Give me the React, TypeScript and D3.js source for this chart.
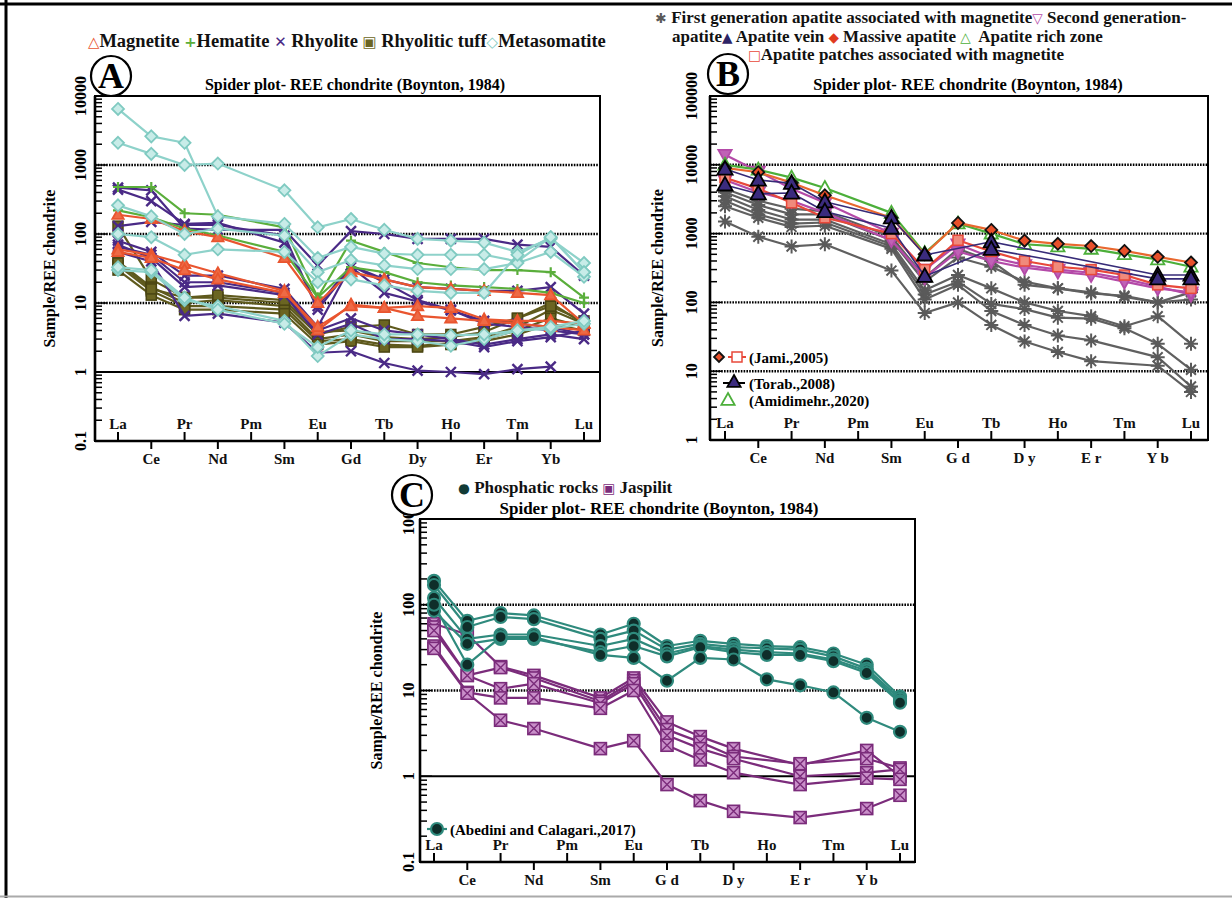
import { useEffect, useRef } from 'react';
import * as d3 from 'd3';

type Row = (number | null)[];

const ELEMENTS = ['La', 'Ce', 'Pr', 'Nd', 'Pm', 'Sm', 'Eu', 'Gd', 'Tb', 'Dy', 'Ho', 'Er', 'Tm', 'Yb', 'Lu'];
const SPACED_LABELS = ['La', 'Ce', 'Pr', 'Nd', 'Pm', 'Sm', 'Eu', 'G d', 'Tb', 'D y', 'Ho', 'E r', 'Tm', 'Y b', 'Lu'];

// Panel A - chondrite normalised values (La..Lu, Pm missing)
const magnetite: Row[] = [
  [190, 165, 110, 90, null, 45, 10, 28, 22, 17, 16, 15, 14, 13, 5],
  [60, 50, 37, 27, null, 15, 4, 9.5, 8.5, 9, 8.5, 5.8, 5.5, 5.5, 5],
  [55, 45, 30, 22, null, 14, 4.5, 9, 8.5, 6.5, 6, 5.5, 5, 4.5, 4],
];
const hematite: Row[] = [
  [480, 480, 200, 190, null, 125, 12, 80, 55, 38, 33, 30, 30, 28, 12],
  [220, 175, 120, 95, null, 55, 12, 33, 28, 20, 18, 17, 16, 14, 10],
];
const rhyolite: Row[] = [
  [470, 430, 120, 115, null, 115, 35, 110, 100, 85, 85, 85, 70, 65, 25],
  [440, 300, 140, 145, null, 75, 9, 35, 22, 17, 16, 15, 15, 17, 7],
  [130, 150, 135, 135, null, 95, 8, 33, 14, 10.5, 7.8, 5.5, 5, 4.5, 3.5],
  [80, 55, 25, 25, null, 16, 4.5, 35, 20, 11, 8, 5, 4.5, 4, 3.5],
  [65, 50, 20, 20, null, 14, 4, 6, 4, 3.5, 3, 2.5, 3, 3.5, 3],
  [70, 45, 17, 18, null, 13, 3.5, 5, 3, 3, 2.8, 2.3, 2.8, 3.2, 4],
  [55, 40, 6.5, 7, null, 5.2, 1.9, 2, 1.35, 1.05, 1.0, 0.93, 1.1, 1.2, null],
];
const rhyoliticTuff: Row[] = [
  [130, 22, 12, 12, null, 10, 3.5, 4.5, 4.8, 3.5, 3.5, 4.5, 6, 10, 5],
  [40, 17, 10, 11, null, 9, 3, 3.5, 2.8, 2.8, 2.8, 3.2, 4.5, 8, 5],
  [35, 15, 9, 9, null, 8, 2.8, 3, 2.5, 2.4, 2.6, 3, 4, 6, 4.5],
  [30, 13, 8, 8, null, 7, 2.5, 2.8, 2.3, 2.3, 2.5, 2.8, 3.5, 5, 4],
  [38, 16, 12, 13, null, 11, 3.8, 4, 3.2, 3, 3.2, 3.8, 6, 9, 5.5],
];
const metasomatite: Row[] = [
  [6500, 2600, 2100, 180, null, 140, 45, 65, 52, 50, 50, 50, 40, 90, 28],
  [2100, 1450, 1000, 1050, null, 430, 125, 165, 115, 85, 80, 75, 55, 85, 38],
  [260, 180, 100, 120, null, 95, 28, 42, 35, 31, 31, 31, 38, 55, 24],
  [100, 90, 50, 60, null, 55, 20, 22, 18, 15, 14, 14, 50, 90, 28],
  [30, 28, 11, 9, null, 5.5, 1.7, 3.5, 3, 2.8, 2.4, 3, 4, 4.2, 5],
  [33, 30, 12, 8, null, 5, 2.3, 4, 3.5, 3.5, 3.4, 3.5, 4, 4.5, 5.5],
];

// Panel B
const firstGeneration: Row[] = [
  [1500, 900, 650, 700, null, 290, 70, 100, 47, 27, 19, 14, null, 12, 5],
  [2500, 1700, 1250, 1300, null, 600, 110, 180, 75, 47, 33, 28, null, 16, 6],
  [3000, 1900, 1400, 1450, null, 650, 130, 200, 95, 80, 60, 58, 42, 25, 10.5],
  [3500, 2200, 1600, 1600, null, 700, 150, 250, 160, 100, 75, 63, 45, 63, 25],
  [4000, 2600, 1900, 1900, null, 800, 200, 450, 330, 200, 160, 140, 120, 100, 110],
  [4500, 3000, 2300, 2100, null, 900, 230, 600, 400, 180, 160, 135, 125, 100, 140],
];
const secondGeneration: Row[] = [
  [14000, 8000, 4500, 2800, null, 1000, 300, 700, 450, 350, 300, 270, 220, 170, 130],
  [6000, 4000, 3000, 2000, null, 800, 230, 550, 400, 320, 280, 250, 200, 160, 140],
];
const apatiteVein: Row[] = [
  [8700, 6000, 5400, 2900, null, 1700, 490, null, 760, null, null, null, null, 250, 250],
  [5100, 3800, 3900, 2100, null, 1200, 240, null, 590, null, null, null, null, 220, 220],
];
const massiveApatite: Row[] = [
  [9000, 7800, 5500, 3600, null, 1700, 500, 1430, 1130, 790, 710, 660, 560, 460, 380],
];
const apatiteRichZone: Row[] = [
  [10000, 8500, 6500, 4600, null, 2000, 520, 1400, 1000, 700, 650, 600, 500, 420, 330],
];
const apatitePatches: Row[] = [
  [6500, 4500, 2800, 1700, null, 1000, 300, 800, 550, 400, 330, 300, 250, 180, 160],
];

// Panel C
const phosphaticRocks: Row[] = [
  [190, 65, 80, 75, null, 45, 60, 33, 38, 35, 33, 32, 27, 20, 8.5],
  [170, 55, 72, 68, null, 40, 50, 30, 35, 32, 31, 30, 25, 18, 8],
  [120, 40, 45, 45, null, 33, 40, 27, 33, 30, 28, 27, 23, 17, 7.5],
  [85, 35, 40, 40, null, 28, 33, 25, 32, 28, 26, 26, 22, 16, 7.2],
  [100, 20, 42, 42, null, 26, 24, 13, 24, 23, 13.5, 11.5, 9.5, 4.8, 3.3],
];
const jaspilit: Row[] = [
  [60, 45, 19, 15, null, 8.2, 14, 4.3, 2.9, 2.1, null, 1.35, null, 2.0, 1.0],
  [55, 15, 18.5, 14, null, 7.5, 13, 3.5, 2.5, 1.7, null, 1.4, null, 1.6, 1.25],
  [50, 15, 10.5, 12, null, 7.1, 12, 3.0, 2.1, 1.6, null, 1.0, null, 1.1, 1.2],
  [33, 9.5, 8.2, 8.2, null, 6.2, 10, 2.3, 1.55, 1.1, null, 0.8, null, 0.95, 0.92],
  [31, 9.3, 4.5, 3.6, null, 2.1, 2.6, 0.8, 0.52, 0.39, null, 0.33, null, 0.42, 0.6],
];

const TICKS_A = [0.1, 1, 10, 100, 1000, 10000];
const TICKS_B = [1, 10, 100, 1000, 10000, 100000];
const TICKS_C = [0.1, 1, 10, 100, 1000];

const FONT = '"Liberation Serif", "DejaVu Serif", serif';
const SYM = '"DejaVu Sans", sans-serif';
const TITLE = 'Spider plot- REE chondrite (Boynton, 1984)';

interface Series {
  rows: Row[];
  line: string;
  marker: string;
  fill: string;
  stroke: string;
  r: number;
  lw?: number;
}

interface Panel {
  letter: string;
  left: number; right: number; top: number; bottom: number;
  x0: number; x1: number;
  ticks: number[];
  spaced: boolean;
  solidOne: boolean;
  series: Series[];
  letterPos: [number, number];
  titleX: number; titleY: number; titleSize: number;
  tickLabelX: number;
  yTitleX: number;
}

const PANELS: Panel[] = [
  {
    letter: 'A', left: 95, right: 600, top: 96, bottom: 441, x0: 118, x1: 584,
    ticks: TICKS_A, spaced: false, solidOne: true,
    letterPos: [111, 76], titleX: 355, titleY: 90, titleSize: 16, tickLabelX: 80, yTitleX: 49,
    series: [
      { rows: rhyoliticTuff, line: '#5f5a1d', marker: 'square', fill: '#6b6522', stroke: '#4a4512', r: 5 },
      { rows: rhyolite, line: '#4a2a86', marker: 'x', fill: 'none', stroke: '#4a2a86', r: 5 },
      { rows: hematite, line: '#5aae3b', marker: 'plus', fill: 'none', stroke: '#5aae3b', r: 5 },
      { rows: magnetite, line: '#e9552f', marker: 'triangle', fill: '#ee6a45', stroke: '#e9552f', r: 6 },
      { rows: metasomatite, line: '#8ed2ca', marker: 'diamond', fill: '#c8ece8', stroke: '#7fcac1', r: 6 },
    ],
  },
  {
    letter: 'B', left: 710, right: 1208, top: 96, bottom: 440, x0: 725, x1: 1191,
    ticks: TICKS_B, spaced: true, solidOne: false,
    letterPos: [728, 74], titleX: 968, titleY: 90, titleSize: 16.5, tickLabelX: 691, yTitleX: 657,
    series: [
      { rows: firstGeneration, line: '#606060', marker: 'asterisk', fill: 'none', stroke: '#5a5a5a', r: 7 },
      { rows: secondGeneration, line: '#b44aa8', marker: 'triangleDown', fill: '#c062b6', stroke: '#b44aa8', r: 7 },
      { rows: apatitePatches, line: '#e8483a', marker: 'square', fill: '#f08a7c', stroke: '#e8483a', r: 5 },
      { rows: apatiteRichZone, line: '#4caf3a', marker: 'triangleOpen', fill: '#ffffff', stroke: '#4caf3a', r: 7 },
      { rows: massiveApatite, line: '#e9682f', marker: 'diamond', fill: '#e8502a', stroke: '#111', r: 6 },
      { rows: apatiteVein, line: '#372b78', marker: 'triangle', fill: '#3b2b7e', stroke: '#000', r: 8, lw: 1.6 },
    ],
  },
  {
    letter: 'C', left: 420, right: 915, top: 519, bottom: 862, x0: 434, x1: 900,
    ticks: TICKS_C, spaced: true, solidOne: true,
    letterPos: [412, 495], titleX: 659, titleY: 514, titleSize: 17, tickLabelX: 408, yTitleX: 376,
    series: [
      { rows: jaspilit, line: '#7b2c7b', marker: 'xsquare', fill: '#c98fc9', stroke: '#7b2c7b', r: 6 },
      { rows: phosphaticRocks, line: '#2f8a7d', marker: 'circle', fill: '#0f2e2a', stroke: '#2f8a7d', r: 6, lw: 2.2 },
    ],
  },
];

type G = d3.Selection<SVGGElement, unknown, null, undefined>;

function drawMarker(g: G, kind: string, cx: number, cy: number, s: { fill: string; stroke: string; r: number }) {
  const r = s.r;
  const m = g.append('g').attr('transform', `translate(${cx},${cy})`);
  if (kind === 'triangle' || kind === 'triangleOpen' || kind === 'triangleDown') {
    const pts = [[0, -r], [r * 0.95, r * 0.7], [-r * 0.95, r * 0.7]];
    m.append('path')
      .attr('d', d3.line()(pts as [number, number][]) + 'Z')
      .attr('transform', kind === 'triangleDown' ? 'rotate(180)' : null)
      .attr('fill', s.fill).attr('stroke', s.stroke).attr('stroke-width', 1.8);
  } else if (kind === 'diamond') {
    m.append('path').attr('d', `M0,${-r}L${r},0L0,${r}L${-r},0Z`)
      .attr('fill', s.fill).attr('stroke', s.stroke).attr('stroke-width', 1.8);
  } else if (kind === 'square') {
    m.append('rect').attr('x', -r).attr('y', -r).attr('width', 2 * r).attr('height', 2 * r)
      .attr('fill', s.fill).attr('stroke', s.stroke).attr('stroke-width', 1.5);
  } else if (kind === 'xsquare') {
    m.append('rect').attr('x', -r).attr('y', -r).attr('width', 2 * r).attr('height', 2 * r)
      .attr('fill', s.fill).attr('stroke', s.stroke).attr('stroke-width', 1.6);
    m.append('path').attr('d', `M${-r},${-r}L${r},${r}M${r},${-r}L${-r},${r}`)
      .attr('stroke', s.stroke).attr('stroke-width', 1.4);
  } else if (kind === 'circle') {
    m.append('circle').attr('r', r).attr('fill', s.fill).attr('stroke', s.stroke).attr('stroke-width', 2.2);
  } else if (kind === 'plus') {
    m.append('path').attr('d', `M${-r},0L${r},0M0,${-r}L0,${r}`)
      .attr('stroke', s.stroke).attr('stroke-width', 2.2);
  } else if (kind === 'x') {
    m.append('path').attr('d', `M${-r},${-r}L${r},${r}M${r},${-r}L${-r},${r}`)
      .attr('stroke', s.stroke).attr('stroke-width', 2.4);
  } else if (kind === 'asterisk') {
    const d = d3.range(8).map(i => {
      const a = (i * Math.PI) / 4;
      return `M0,0L${(r * Math.cos(a)).toFixed(2)},${(r * Math.sin(a)).toFixed(2)}`;
    }).join('');
    m.append('path').attr('d', d).attr('stroke', s.stroke).attr('stroke-width', 2);
  }
}

function drawPanel(svg: d3.Selection<SVGSVGElement, unknown, null, undefined>, p: Panel) {
  const g = svg.append('g') as unknown as G;
  const x = d3.scalePoint<string>().domain(ELEMENTS).range([p.x0, p.x1]);
  const y = d3.scaleLog().domain([p.ticks[0], p.ticks[p.ticks.length - 1]]).range([p.bottom, p.top]);

  // dotted decade lines
  p.ticks.slice(1, -1).forEach(t => {
    const solid = p.solidOne && t === 1;
    g.append('line')
      .attr('x1', p.left).attr('x2', p.right).attr('y1', y(t)).attr('y2', y(t))
      .attr('stroke', '#000').attr('stroke-width', solid ? 2 : 2.4)
      .attr('stroke-dasharray', solid ? null : '1.6,1.2');
  });

  // log ticks on the left axis
  for (let e = Math.log10(p.ticks[0]); e < Math.log10(p.ticks[p.ticks.length - 1]) - 0.5; e++) {
    for (let k = 1; k <= 9; k++) {
      const v = k * Math.pow(10, e);
      g.append('line')
        .attr('x1', p.left).attr('x2', p.left + (k === 1 ? 12 : 7))
        .attr('y1', y(v)).attr('y2', y(v))
        .attr('stroke', '#000').attr('stroke-width', 1.5);
    }
  }

  // series
  p.series.forEach(s => {
    s.rows.forEach(row => {
      const pts = row.map((v, i) => ({ el: ELEMENTS[i], v })).filter(d => d.v != null) as { el: string; v: number }[];
      const line = d3.line<{ el: string; v: number }>().x(d => x(d.el)!).y(d => y(d.v));
      g.append('path').attr('d', line(pts)).attr('fill', 'none')
        .attr('stroke', s.line).attr('stroke-width', s.lw ?? 2.2).attr('stroke-linejoin', 'round');
    });
    s.rows.forEach(row => {
      row.forEach((v, i) => {
        if (v == null) return;
        drawMarker(g, s.marker, x(ELEMENTS[i])!, y(v), s);
      });
    });
  });

  // frame
  g.append('rect').attr('x', p.left).attr('y', p.top)
    .attr('width', p.right - p.left).attr('height', p.bottom - p.top)
    .attr('fill', 'none').attr('stroke', '#000').attr('stroke-width', 2);
  g.append('line').attr('x1', p.left).attr('x2', p.left).attr('y1', p.top).attr('y2', p.bottom)
    .attr('stroke', '#000').attr('stroke-width', 2.6);
  g.append('line').attr('x1', p.left).attr('x2', p.right).attr('y1', p.bottom).attr('y2', p.bottom)
    .attr('stroke', '#000').attr('stroke-width', 2.6);

  // element labels, alternating inside / below
  const labels = p.spaced ? SPACED_LABELS : ELEMENTS;
  ELEMENTS.forEach((el, i) => {
    const xx = x(el)!;
    const up = i % 2 === 0;
    g.append('line').attr('x1', xx).attr('x2', xx)
      .attr('y1', p.bottom).attr('y2', up ? p.bottom - 9 : p.bottom + 8)
      .attr('stroke', '#000').attr('stroke-width', 2);
    g.append('text').attr('x', xx).attr('y', up ? p.bottom - 12 : p.bottom + 23)
      .attr('text-anchor', 'middle').attr('font-size', 15).attr('font-weight', 'bold')
      .attr('font-family', FONT).attr('fill', '#111')
      .attr('style', p.spaced ? 'white-space:pre' : null)
      .text(labels[i]);
  });

  // y tick labels
  p.ticks.forEach(t => {
    g.append('text')
      .attr('transform', `translate(${p.tickLabelX},${y(t)}) rotate(-90)`)
      .attr('text-anchor', 'middle').attr('dominant-baseline', 'central')
      .attr('font-size', 16).attr('font-weight', 'bold').attr('font-family', FONT)
      .text(d3.format('~')(t));
  });

  g.append('text')
    .attr('transform', `translate(${p.yTitleX},${(p.top + p.bottom) / 2}) rotate(-90)`)
    .attr('text-anchor', 'middle').attr('dominant-baseline', 'central')
    .attr('font-size', 16).attr('font-weight', 'bold').attr('font-family', FONT)
    .text('Sample/REE chondrite');

  g.append('text').attr('x', p.titleX).attr('y', p.titleY)
    .attr('text-anchor', 'middle').attr('font-size', p.titleSize).attr('font-weight', 'bold')
    .attr('font-family', FONT).text(TITLE);

  g.append('circle').attr('cx', p.letterPos[0]).attr('cy', p.letterPos[1]).attr('r', 20)
    .attr('fill', '#fff').attr('stroke', '#000').attr('stroke-width', 2.2);
  g.append('text').attr('x', p.letterPos[0]).attr('y', p.letterPos[1] + 12)
    .attr('text-anchor', 'middle').attr('font-size', 36).attr('font-weight', 'bold')
    .attr('font-family', FONT).text(p.letter);
}

function legendLine(svg: d3.Selection<SVGSVGElement, unknown, null, undefined>, x: number, yy: number, size: number,
  parts: [string, string, boolean?][]) {
  const t = svg.append('text').attr('x', x).attr('y', yy).attr('font-size', size)
    .attr('font-weight', 'bold').attr('font-family', FONT).attr('style', 'white-space:pre');
  parts.forEach(([txt, col, sym]) => {
    const ts = t.append('tspan').attr('fill', col).attr('font-family', sym ? SYM : FONT).text(txt);
    if (sym) ts.attr('font-size', size * 0.8);
  });
}

export default function App() {
  const svgRef = useRef<SVGSVGElement>(null);

  useEffect(() => {
    if (!svgRef.current) return;
    const svg = d3.select(svgRef.current);
    svg.selectAll('*').remove();

    svg.append('rect').attr('width', 1232).attr('height', 898).attr('fill', '#fff');
    svg.append('line').attr('x1', 0).attr('x2', 1232).attr('y1', 4).attr('y2', 4)
      .attr('stroke', '#000').attr('stroke-width', 3);
    svg.append('line').attr('x1', 6).attr('x2', 6).attr('y1', 0).attr('y2', 898)
      .attr('stroke', '#000').attr('stroke-width', 3);
    svg.append('line').attr('x1', 0).attr('x2', 1232).attr('y1', 896.5).attr('y2', 896.5)
      .attr('stroke', '#aaa').attr('stroke-width', 2);

    PANELS.forEach(p => drawPanel(svg, p));

    // legend A
    legendLine(svg, 88, 47, 18.5, [
      ['△', '#e9552f', true], ['Magnetite ', '#111'],
      ['+', '#5aae3b', true], ['Hematite ', '#111'],
      ['✕', '#4a2a86', true], [' Rhyolite ', '#111'],
      ['▣', '#6b6522', true], [' Rhyolitic tuff', '#111'],
      ['◇', '#7fcac1', true], ['Metasomatite', '#111'],
    ]);

    // legend B
    legendLine(svg, 655, 23, 17, [
      ['✱ ', '#5a5a5a', true], ['First generation apatite associated with magnetite', '#111'],
      ['▽', '#b44aa8', true], [' Second generation-', '#111'],
    ]);
    legendLine(svg, 672, 41.5, 17, [
      ['apatite', '#111'], ['▲', '#2e2466', true], [' Apatite vein ', '#111'],
      ['◆', '#e03a1e', true], [' Massive apatite ', '#111'],
      ['△', '#4caf3a', true], ['  Apatite rich zone', '#111'],
    ]);
    legendLine(svg, 748, 59.5, 17, [
      ['□', '#e8483a', true], ['Apatite patches associated with magnetite', '#111'],
    ]);

    // legend C
    legendLine(svg, 458, 493, 17, [
      ['●', '#123b36', true], [' Phosphatic rocks ', '#111'],
      ['▣', '#7b2c7b', true], [' Jaspilit', '#111'],
    ]);

    // inline reference keys
    const keys = svg.append('g') as unknown as G;
    drawMarker(keys, 'diamond', 719, 357, { fill: '#e8502a', stroke: '#111', r: 5 });
    keys.append('line').attr('x1', 728).attr('x2', 746).attr('y1', 357).attr('y2', 357)
      .attr('stroke', '#e8483a').attr('stroke-width', 2);
    drawMarker(keys, 'square', 737, 357, { fill: '#fff', stroke: '#e8483a', r: 5 });
    keys.append('line').attr('x1', 723).attr('x2', 745).attr('y1', 383).attr('y2', 383)
      .attr('stroke', '#000').attr('stroke-width', 2);
    drawMarker(keys, 'triangle', 734, 382, { fill: '#3b2b7e', stroke: '#000', r: 7 });
    drawMarker(keys, 'triangleOpen', 728, 400, { fill: '#fff', stroke: '#4caf3a', r: 7 });
    keys.append('line').attr('x1', 427).attr('x2', 447).attr('y1', 829).attr('y2', 829)
      .attr('stroke', '#2f8a7d').attr('stroke-width', 2.2);
    drawMarker(keys, 'circle', 437, 829, { fill: '#0f2e2a', stroke: '#2f8a7d', r: 6 });

    [
      ['(Jami.,2005)', 749, 363],
      ['(Torab.,2008)', 749, 389],
      ['(Amidimehr.,2020)', 749, 406],
      ['(Abedini and Calagari.,2017)', 450, 835],
    ].forEach(([txt, xx, yy]) => {
      svg.append('text').attr('x', xx as number).attr('y', yy as number).attr('font-size', 15)
        .attr('font-weight', 'bold').attr('font-family', FONT).text(txt as string);
    });
  }, []);

  return (
    <svg
      ref={svgRef}
      width={1232}
      height={898}
      style={{ position: 'absolute', left: 0, top: 0, display: 'block' }}
    />
  );
}
